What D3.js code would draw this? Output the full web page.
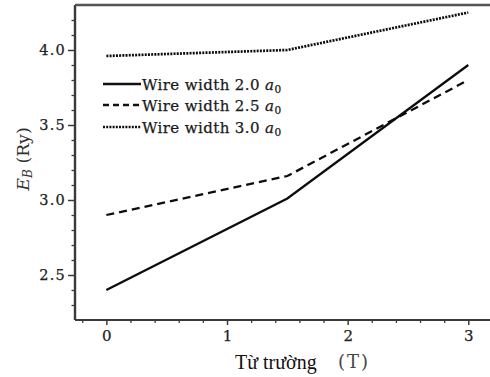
<!DOCTYPE html>
<html>
<head>
<meta charset="utf-8">
<script src="https://cdn.jsdelivr.net/npm/d3@7"></script>
<style>
  html, body { margin: 0; padding: 0; background: #fff; }
  svg { display: block; }
  .tick text { font-family: "DejaVu Serif", serif; }
</style>
</head>
<body>
<svg id="chart" width="490" height="377"></svg>
<script>
// Binding energy vs magnetic field for three wire widths
const field = [0, 1.5, 3];
const width20 = [2.40, 3.01, 3.90];
const width25 = [2.90, 3.16, 3.80];
const width30 = [3.96, 4.00, 4.25];
const seriesNames = ["Wire width 2.0", "Wire width 2.5", "Wire width 3.0"];
const xTicks = [0, 1, 2, 3];
const yTicks = [2.5, 3.0, 3.5, 4.0];

const svg = d3.select("#chart");
const plotLeft = 75, plotRight = 490, plotTop = 5, plotBottom = 320;

const x = d3.scaleLinear().domain([-0.26, 3.18]).range([plotLeft, plotRight]);
const y = d3.scaleLinear().domain([2.2, 4.3]).range([plotBottom, plotTop]);

const axisColor = "#3a3a3a";

// minor ticks
const xMinor = d3.range(-0.2, 3.15, 0.2).filter(v => Math.abs(v - Math.round(v)) > 1e-6);
const yMinor = d3.range(2.3, 4.25, 0.1).filter(v => Math.abs(v * 2 - Math.round(v * 2)) > 1e-6);

svg.append("g")
  .attr("transform", `translate(0,${plotBottom})`)
  .call(d3.axisBottom(x).tickValues(xMinor).tickSize(3).tickFormat(""))
  .call(g => g.select(".domain").remove())
  .call(g => g.selectAll("line").attr("stroke", axisColor).attr("stroke-width", 1.3));

svg.append("g")
  .attr("transform", `translate(${plotLeft},0)`)
  .call(d3.axisLeft(y).tickValues(yMinor).tickSize(3.5).tickFormat(""))
  .call(g => g.select(".domain").remove())
  .call(g => g.selectAll("line").attr("stroke", axisColor).attr("stroke-width", 1.3));

// major axes
svg.append("g")
  .attr("transform", `translate(0,${plotBottom})`)
  .call(d3.axisBottom(x).tickValues(xTicks).tickSize(5).tickPadding(5).tickFormat(d3.format("d")))
  .call(g => g.select(".domain").remove())
  .call(g => g.selectAll("line").attr("stroke", axisColor).attr("stroke-width", 1.5))
  .call(g => g.selectAll("text").attr("font-size", 15).attr("fill", "#222")
    .attr("stroke", "#222").attr("stroke-width", 0.25));

svg.append("g")
  .attr("transform", `translate(${plotLeft},0)`)
  .call(d3.axisLeft(y).tickValues(yTicks).tickSize(7).tickPadding(2).tickFormat(d3.format(".1f")))
  .call(g => g.select(".domain").remove())
  .call(g => g.selectAll("line").attr("stroke", axisColor).attr("stroke-width", 1.5))
  .call(g => g.selectAll("text").attr("font-size", 14.5).attr("letter-spacing", 1.2).attr("fill", "#222")
    .attr("stroke", "#222").attr("stroke-width", 0.25));

// frame lines
svg.append("line").attr("x1", plotLeft).attr("x2", plotRight).attr("y1", plotBottom).attr("y2", plotBottom)
  .attr("stroke", axisColor).attr("stroke-width", 2.2);
svg.append("line").attr("x1", plotLeft).attr("x2", plotLeft).attr("y1", plotTop).attr("y2", plotBottom)
  .attr("stroke", axisColor).attr("stroke-width", 2.4);
svg.append("line").attr("x1", plotLeft).attr("x2", plotRight).attr("y1", plotTop).attr("y2", plotTop)
  .attr("stroke", "#555").attr("stroke-width", 2.4);

// data lines
const styles = [
  { dash: null, w: 2.3 },
  { dash: "8,5", w: 2.3 },
  { dash: "2,1.2", w: 2.7 }
];
const allSeries = [width20, width25, width30];
const line = d3.line().x((d, i) => x(field[i])).y(d => y(d));

allSeries.forEach((vals, k) => {
  svg.append("path")
    .datum(vals)
    .attr("d", line)
    .attr("fill", "none")
    .attr("stroke", "#0d0d0d")
    .attr("stroke-width", styles[k].w)
    .attr("stroke-dasharray", styles[k].dash);
});

// legend
const legendRows = [84, 105, 127];
const lg = svg.append("g");
seriesNames.forEach((name, k) => {
  const yy = legendRows[k];
  lg.append("line")
    .attr("x1", 103).attr("x2", 141).attr("y1", yy).attr("y2", yy)
    .attr("stroke", "#111")
    .attr("stroke-width", styles[k].w)
    .attr("stroke-dasharray", k === 1 ? "6,4" : styles[k].dash);
  const t = lg.append("text")
    .attr("x", 142).attr("y", yy + 5.5)
    .attr("font-family", "DejaVu Serif, serif")
    .attr("font-size", 15)
    .attr("letter-spacing", 0.4)
    .attr("fill", "#1a1a1a")
    .attr("stroke", "#1a1a1a")
    .attr("stroke-width", 0.25);
  t.append("tspan").text(name + " ");
  t.append("tspan").attr("font-style", "italic").text("a");
  t.append("tspan").attr("font-size", 10.5).attr("dy", 3).text("0");
});

// y axis label
const yl = svg.append("text")
  .attr("transform", "translate(29,159) rotate(-90)")
  .attr("text-anchor", "middle")
  .attr("font-family", "DejaVu Serif, serif")
  .attr("font-size", 17.5)
  .attr("fill", "#333");
yl.append("tspan").attr("font-style", "italic").text("E");
yl.append("tspan").attr("font-style", "italic").attr("font-size", 12).attr("dy", 3).text("B");
yl.append("tspan").attr("dy", -3).text(" (Ry)");

// x axis label
svg.append("text")
  .attr("x", 235).attr("y", 369)
  .attr("font-family", "Liberation Serif, serif")
  .attr("font-size", 20)
  .attr("fill", "#111")
  .text("Từ trường");
svg.append("text")
  .attr("x", 338).attr("y", 368)
  .attr("font-family", "DejaVu Serif, serif")
  .attr("font-size", 18)
  .attr("letter-spacing", 2)
  .attr("fill", "#444")
  .text("(T)");
</script>
</body>
</html>
